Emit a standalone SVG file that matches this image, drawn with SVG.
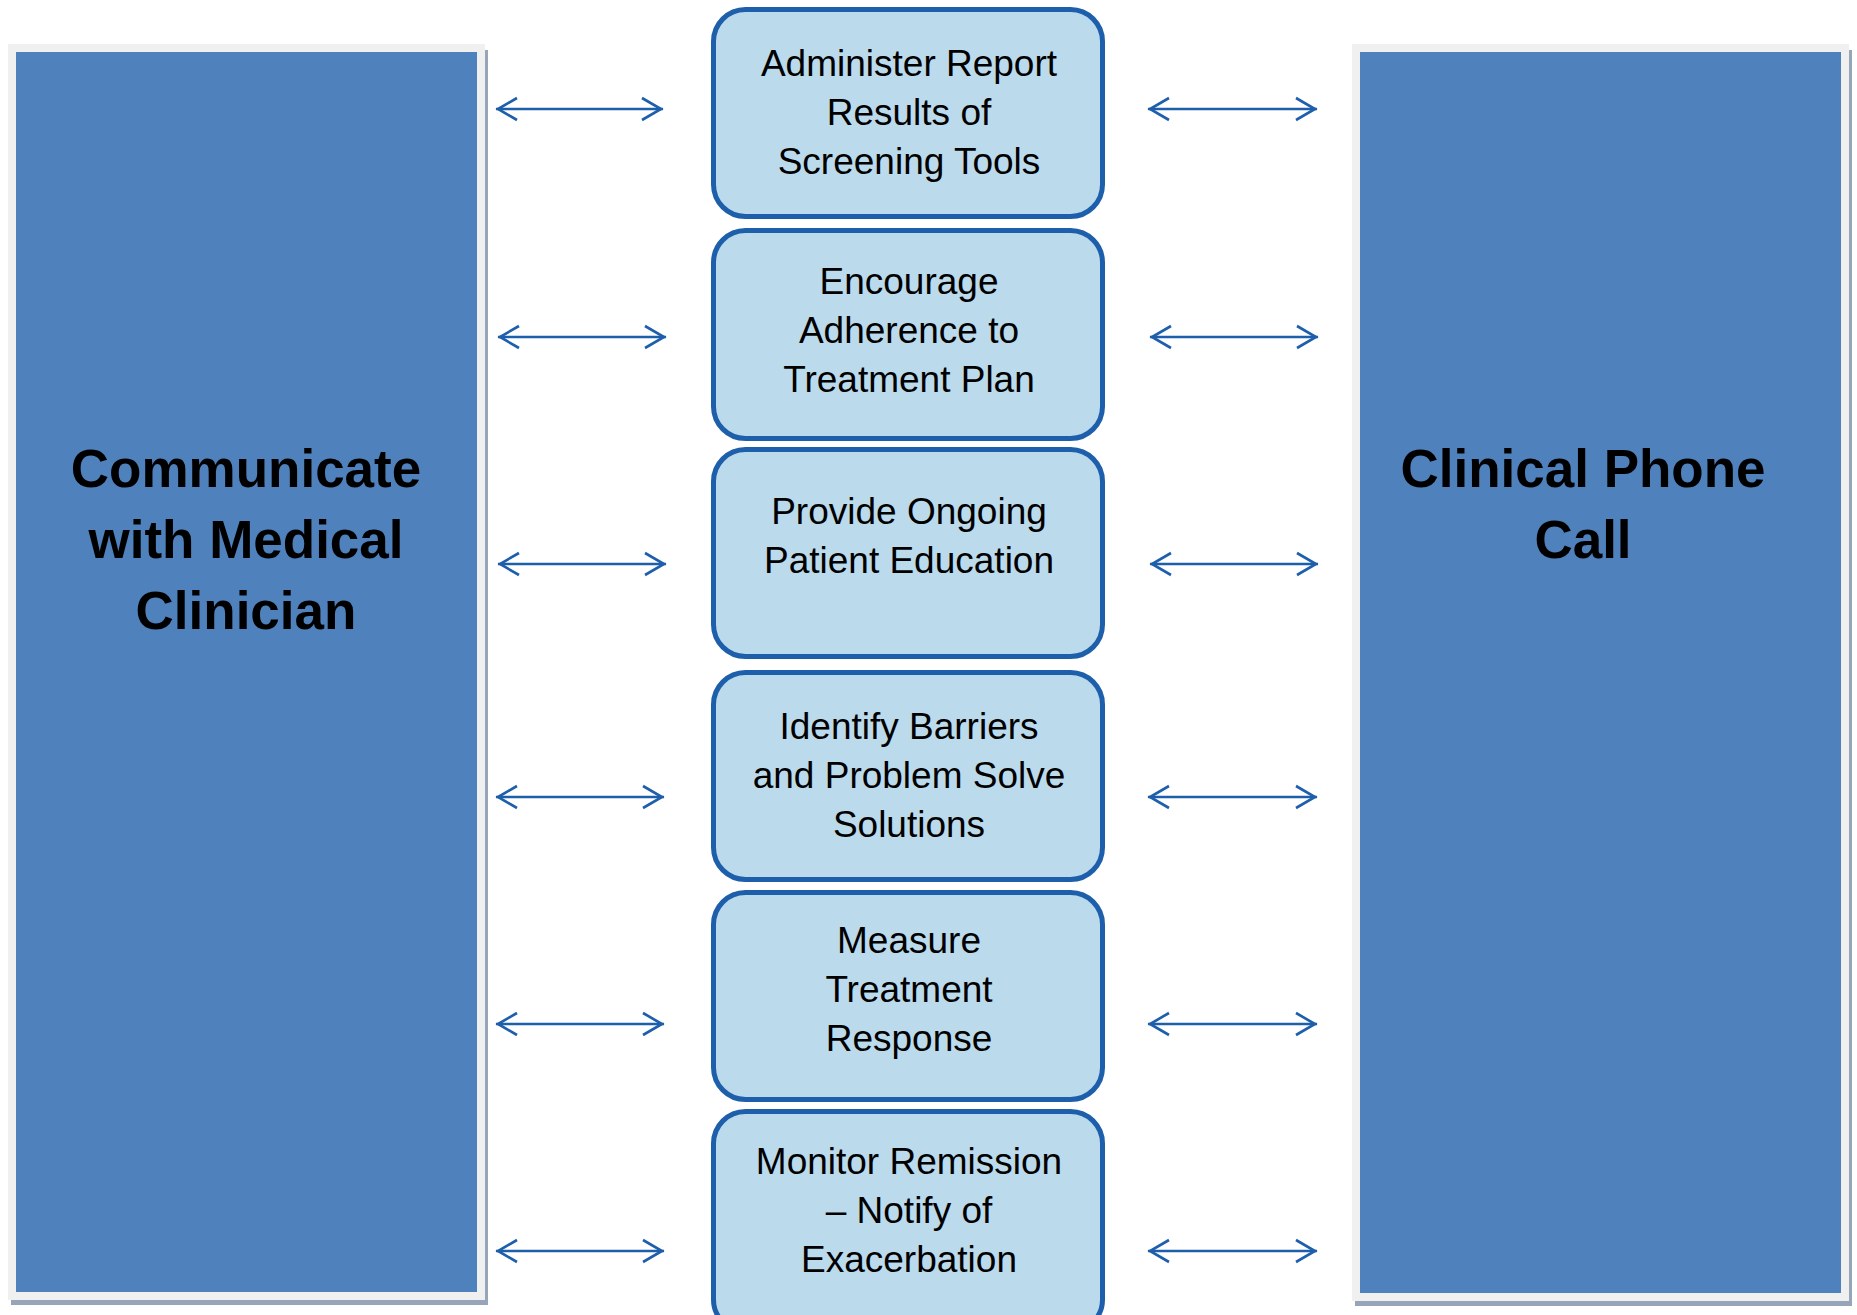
<svg xmlns="http://www.w3.org/2000/svg" width="1857" height="1315" viewBox="0 0 1857 1315">
<style>
.shadow{fill:#97a5b9}
.frame{fill:#f0f0f0}
.panel{fill:#4f81bd}
.big{font-family:"Liberation Sans",Arial,sans-serif;font-weight:bold;font-size:53px;fill:#000;text-anchor:middle}
.box{fill:#bbdaec;stroke:#1e5fac;stroke-width:5}
.lbl{font-family:"Liberation Sans",Arial,sans-serif;font-size:37px;fill:#000;text-anchor:middle}
.arr{stroke:#1e5fac;stroke-width:2.6;fill:none;marker-start:url(#head);marker-end:url(#head)}
</style>
<defs>
<marker id="head" markerUnits="userSpaceOnUse" markerWidth="26" markerHeight="26" viewBox="0 0 26 26" refX="23" refY="13" orient="auto-start-reverse">
<path d="M2,2 L21,13 L2,24" fill="none" stroke="#1e5fac" stroke-width="2.6"/>
</marker>
</defs>
<rect width="1857" height="1315" fill="#fff"/>
<g id="left-panel">
<rect class="shadow" x="11" y="50" width="477" height="1255"/>
<rect class="frame" x="8" y="44" width="477" height="1256"/>
<rect class="panel" x="16" y="52" width="461" height="1240"/>
<text class="big" x="246" y="487">Communicate</text>
<text class="big" x="246" y="558">with Medical</text>
<text class="big" x="246" y="629">Clinician</text>
</g>
<g id="right-panel">
<rect class="shadow" x="1355" y="50" width="497" height="1256"/>
<rect class="frame" x="1352" y="44" width="497" height="1257"/>
<rect class="panel" x="1360" y="52" width="481" height="1241"/>
<text class="big" x="1583" y="487">Clinical Phone</text>
<text class="big" x="1583" y="558">Call</text>
</g>
<g id="box1">
<rect class="box" x="713.5" y="9.5" width="389" height="207" rx="32"/>
<text class="lbl" x="909" y="76">Administer Report</text>
<text class="lbl" x="909" y="125">Results of</text>
<text class="lbl" x="909" y="174">Screening Tools</text>
</g>
<g id="box2">
<rect class="box" x="713.5" y="230.5" width="389" height="208" rx="32"/>
<text class="lbl" x="909" y="294">Encourage</text>
<text class="lbl" x="909" y="343">Adherence to</text>
<text class="lbl" x="909" y="392">Treatment Plan</text>
</g>
<g id="box3">
<rect class="box" x="713.5" y="449.5" width="389" height="207" rx="32"/>
<text class="lbl" x="909" y="524">Provide Ongoing</text>
<text class="lbl" x="909" y="573">Patient Education</text>
</g>
<g id="box4">
<rect class="box" x="713.5" y="672.5" width="389" height="207" rx="32"/>
<text class="lbl" x="909" y="739">Identify Barriers</text>
<text class="lbl" x="909" y="788">and Problem Solve</text>
<text class="lbl" x="909" y="837">Solutions</text>
</g>
<g id="box5">
<rect class="box" x="713.5" y="892.5" width="389" height="207" rx="32"/>
<text class="lbl" x="909" y="953">Measure</text>
<text class="lbl" x="909" y="1002">Treatment</text>
<text class="lbl" x="909" y="1051">Response</text>
</g>
<g id="box6">
<rect class="box" x="713.5" y="1111.5" width="389" height="220" rx="32"/>
<text class="lbl" x="909" y="1174">Monitor Remission</text>
<text class="lbl" x="909" y="1223">– Notify of</text>
<text class="lbl" x="909" y="1272">Exacerbation</text>
</g>
<g id="connectors">
<path class="arr" d="M496,109 H663"/>
<path class="arr" d="M498,337 H666"/>
<path class="arr" d="M498,564 H666"/>
<path class="arr" d="M496,797 H664"/>
<path class="arr" d="M496,1024 H664"/>
<path class="arr" d="M496,1251 H664"/>
<path class="arr" d="M1148,109 H1317"/>
<path class="arr" d="M1150,337 H1318"/>
<path class="arr" d="M1150,564 H1318"/>
<path class="arr" d="M1148,797 H1317"/>
<path class="arr" d="M1148,1024 H1317"/>
<path class="arr" d="M1148,1251 H1317"/>
</g>
</svg>
